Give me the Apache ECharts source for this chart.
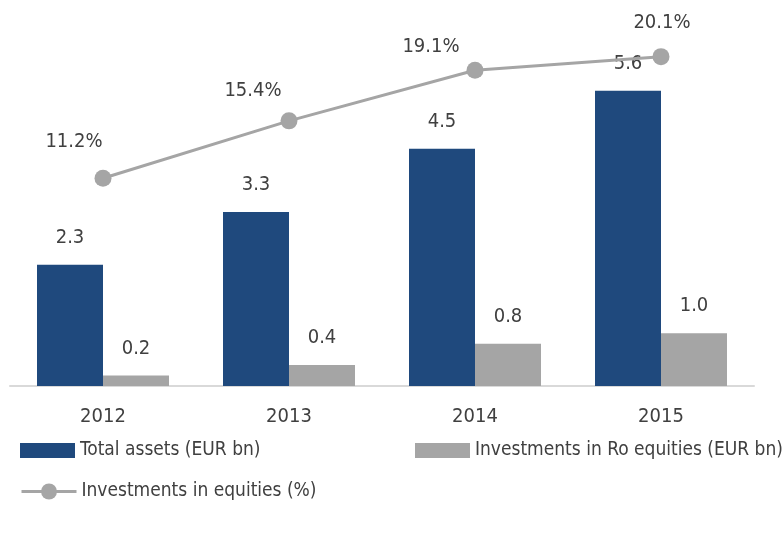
<!DOCTYPE html>
<html>
<head>
<meta charset="utf-8">
<script src="https://cdn.jsdelivr.net/npm/echarts@6/dist/echarts.min.js"></script>
<style>
  html, body { margin: 0; padding: 0; background: #fff; }
  #chart { width: 782px; height: 533px; }
</style>
</head>
<body>
<div id="chart"></div>
<script>
  var years = ['2012', '2013', '2014', '2015']
  var totalAssets = [2.3, 3.3, 4.5, 5.6]
  var roEquities = [0.2, 0.4, 0.8, 1.0]
  var equityShare = [11.2, 15.4, 19.1, 20.1]
  // label offsets for the % line (where the labels sit in the picture)
  var shareLabelOffsets = [[-29, -36], [-36, -30], [-44, -24], [1, -34]]

  var FONT = '"DejaVu Sans Condensed", "Liberation Sans Narrow", "Roboto", sans-serif'
  var TXT = '#404040'
  var FS = 20
  var LEG_FS = 19

  var chart = echarts.init(document.getElementById('chart'))
  var option = {
    animation: false,
    textStyle: { fontFamily: FONT },
    grid: { left: 10, right: 28, top: 17, bottom: 147, containLabel: false },
    legend: [
      {
        data: ['Total assets (EUR bn)'],
        left: 20, top: 441, padding: 0,
        itemWidth: 55, itemHeight: 15,
        icon: 'rect',
        textStyle: { fontFamily: FONT, fontSize: LEG_FS, color: TXT }
      },
      {
        data: ['Investments in Ro equities (EUR bn)'],
        left: 415, top: 441, padding: 0,
        itemWidth: 55, itemHeight: 15,
        icon: 'rect',
        textStyle: { fontFamily: FONT, fontSize: LEG_FS, color: TXT }
      },
      {
        data: ['Investments in equities (%)'],
        left: 20, top: 482, padding: 0,
        itemWidth: 55, itemHeight: 20,
        lineStyle: { width: 3 },
        textStyle: { fontFamily: FONT, fontSize: LEG_FS, color: TXT }
      }
    ],
    xAxis: {
      type: 'category',
      data: years,
      axisTick: { show: false },
      axisLine: { lineStyle: { color: '#d9d9d9', width: 2 } },
      axisLabel: { margin: 21, fontSize: FS, color: TXT, fontFamily: FONT }
    },
    yAxis: [
      { type: 'value', min: 0, max: 7, show: false },
      { type: 'value', min: -4, max: 23, show: false }
    ],
    series: [
      {
        name: 'Total assets (EUR bn)',
        type: 'bar',
        data: totalAssets,
        barWidth: 66,
        barGap: '0%',
        itemStyle: { color: '#1f497d' },
        label: {
          show: true, position: 'top', distance: 17,
          fontSize: FS, color: TXT, fontFamily: FONT,
          formatter: function (p) { return p.value.toFixed(1) }
        }
      },
      {
        name: 'Investments in Ro equities (EUR bn)',
        type: 'bar',
        data: roEquities,
        barWidth: 66,
        barGap: '0%',
        itemStyle: { color: '#a5a5a5' },
        label: {
          show: true, position: 'top', distance: 17,
          fontSize: FS, color: TXT, fontFamily: FONT,
          formatter: function (p) { return p.value.toFixed(1) }
        }
      },
      {
        name: 'Investments in equities (%)',
        type: 'line',
        yAxisIndex: 1,
        data: equityShare.map(function (v, i) {
          return {
            value: v,
            label: { offset: shareLabelOffsets[i] }
          }
        }),
        symbol: 'circle',
        symbolSize: 17,
        lineStyle: { color: '#a5a5a5', width: 3 },
        itemStyle: { color: '#a5a5a5' },
        label: {
          show: true, position: 'inside',
          fontSize: FS, color: TXT, fontFamily: FONT,
          formatter: function (p) { return p.value.toFixed(1) + '%' }
        },
        z: 5
      }
    ]
  }
  chart.setOption(option)
</script>
</body>
</html>
